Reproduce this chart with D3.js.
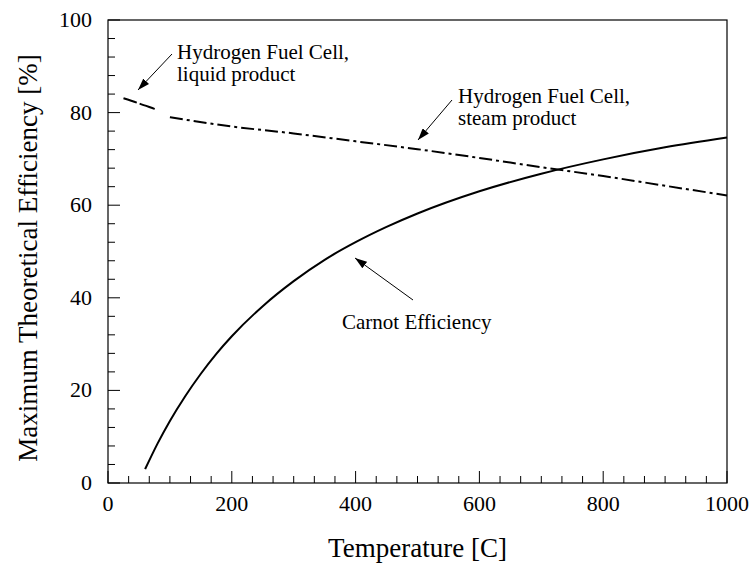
<html>
<head>
  <script src="https://d3js.org/d3.v7.min.js"></script>
  <style>
  body { margin: 0; background: #fff; }
  text { font-family: "Liberation Serif", "DejaVu Serif", serif; fill: #000; }
  </style>
</head>
<body>
  <svg id="plot" width="754" height="567"></svg>
  <script>

// carnot efficiency
var carnotT = [60, 80, 100, 125, 150, 175, 200, 250, 300, 350, 400, 450, 500, 600, 700, 800, 900, 1000];
var carnotE = [3.0, 8.5, 13.4, 18.8, 23.6, 27.9, 31.7, 38.2, 43.6, 48.2, 52.0, 55.3, 58.2, 63.0, 66.8, 69.9, 72.5, 74.6];

// fuel cell, liquid water product
var liquidT = [25, 50, 75, 100];
var liquidE = [83.1, 82.0, 80.8, 79.6];

// fuel cell, steam product
var steamT = [100, 200, 300, 400, 500, 600, 700, 800, 900, 1000];
var steamE = [79.0, 77.0, 75.5, 73.8, 72.1, 70.2, 68.2, 66.3, 64.2, 62.1];

var xTicks = [0, 200, 400, 600, 800, 1000];
var yTicks = [0, 20, 40, 60, 80, 100];

var svg = d3.select("#plot"),
  plotL = 108, plotR = 727, plotT = 20, plotB = 483;

var x = d3.scaleLinear().domain([0, 1000]).range([plotL, plotR]);
var y = d3.scaleLinear().domain([0, 100]).range([plotB, plotT]);

// frame
svg.append("rect")
  .attr("x", plotL).attr("y", plotT)
  .attr("width", plotR - plotL).attr("height", plotB - plotT)
  .attr("fill", "none").attr("stroke", "#000").attr("stroke-width", 1.2);

// ticks (inside), major ones longer
var xMinor = d3.range(0, 1000.1, 200 / 6);
var yMinor = d3.range(0, 100.1, 4);

svg.append("g").selectAll("line").data(xMinor).enter().append("line")
  .attr("x1", function(d) { return x(d); }).attr("x2", function(d) { return x(d); })
  .attr("y1", plotB).attr("y2", function(d, i) { return i % 6 === 0 ? plotB - 12 : plotB - 7; })
  .attr("stroke", "#000").attr("stroke-width", 1);

svg.append("g").selectAll("line").data(yMinor).enter().append("line")
  .attr("y1", function(d) { return y(d); }).attr("y2", function(d) { return y(d); })
  .attr("x1", plotL).attr("x2", function(d, i) { return i % 5 === 0 ? plotL + 12 : plotL + 7; })
  .attr("stroke", "#000").attr("stroke-width", 1);

// tick labels
svg.append("g").selectAll("text").data(xTicks).enter().append("text")
  .attr("x", function(d) { return x(d); })
  .attr("y", plotB + 28)
  .attr("text-anchor", "middle")
  .style("font-size", "22px")
  .text(function(d) { return d; });

svg.append("g").selectAll("text").data(yTicks).enter().append("text")
  .attr("x", plotL - 16)
  .attr("y", function(d) { return y(d) + 7; })
  .attr("text-anchor", "end")
  .style("font-size", "22px")
  .text(function(d) { return d; });

// axis titles
svg.append("text")
  .attr("x", (plotL + plotR) / 2)
  .attr("y", 557)
  .attr("text-anchor", "middle")
  .style("font-size", "27px")
  .text("Temperature [C]");

svg.append("text")
  .attr("transform", "translate(37,258) rotate(-90)")
  .attr("text-anchor", "middle")
  .style("font-size", "27px")
  .text("Maximum Theoretical Efficiency [%]");

// curves
var line = d3.line()
  .x(function(d) { return x(d[0]); })
  .y(function(d) { return y(d[1]); })
  .curve(d3.curveMonotoneX);

svg.append("path")
  .datum(d3.zip(carnotT, carnotE))
  .attr("d", line)
  .attr("fill", "none").attr("stroke", "#000").attr("stroke-width", 2);

svg.append("path")
  .datum(d3.zip(liquidT, liquidE))
  .attr("d", line)
  .attr("fill", "none").attr("stroke", "#000").attr("stroke-width", 2)
  .attr("stroke-dasharray", "14,3,16,50");

svg.append("path")
  .datum(d3.zip(steamT, steamE))
  .attr("d", line)
  .attr("fill", "none").attr("stroke", "#000").attr("stroke-width", 2)
  .attr("stroke-dasharray", "13,4,3,4");

// annotations with arrows
svg.append("defs").append("marker")
  .attr("id", "head")
  .attr("viewBox", "0 0 12 8")
  .attr("refX", 12).attr("refY", 4)
  .attr("markerWidth", 12).attr("markerHeight", 8)
  .attr("markerUnits", "userSpaceOnUse")
  .attr("orient", "auto")
  .append("path").attr("d", "M0,0L12,4L0,8Z").attr("fill", "#000");

var notes = [
  {lines: ["Hydrogen Fuel Cell,", "liquid product"], tx: 177, ty: 59, from: [172, 54], to: [138, 90]},
  {lines: ["Hydrogen Fuel Cell,", "steam product"], tx: 458, ty: 103, from: [452, 100], to: [418, 140]},
  {lines: ["Carnot Efficiency"], tx: 342, ty: 329, from: [413, 300], to: [355, 258]}
];

notes.forEach(function(n) {
  svg.append("line")
    .attr("x1", n.from[0]).attr("y1", n.from[1])
    .attr("x2", n.to[0]).attr("y2", n.to[1])
    .attr("stroke", "#000").attr("stroke-width", 1)
    .attr("marker-end", "url(#head)");
  n.lines.forEach(function(t, i) {
    svg.append("text")
      .attr("x", n.tx).attr("y", n.ty + i * 22)
      .style("font-size", "21px")
      .text(t);
  });
});

  </script>
</body>
</html>
